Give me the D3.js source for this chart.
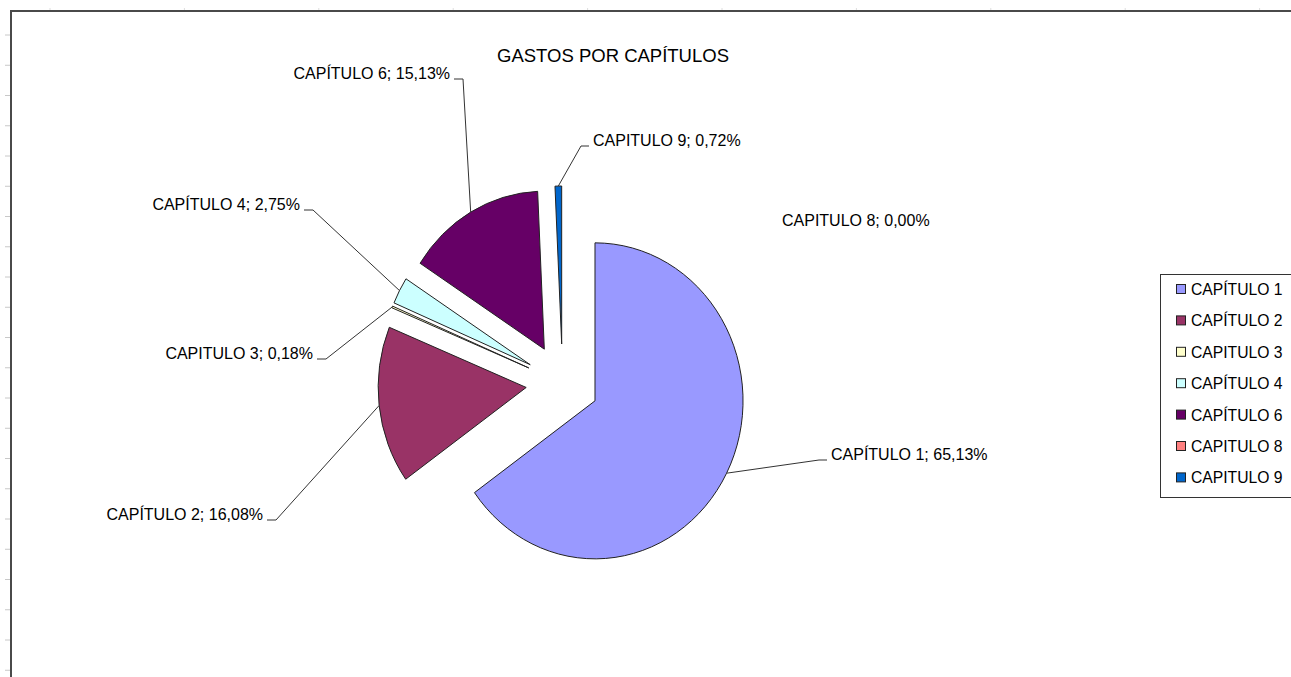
<!DOCTYPE html>
<html>
<head>
<meta charset="utf-8">
<script src="https://cdn.jsdelivr.net/npm/d3@7/dist/d3.min.js"></script>
<style>
  html, body { margin: 0; padding: 0; background: #fff; overflow: hidden; }
  svg { display: block; }
  text { font-family: "Liberation Sans", Arial, sans-serif; fill: #000; }
</style>
</head>
<body>
<svg id="chart" width="1291" height="677"></svg>
<script>
// ---- data ----
const title = "GASTOS POR CAPÍTULOS";
const categories = ["CAPÍTULO 1", "CAPÍTULO 2", "CAPITULO 3", "CAPÍTULO 4", "CAPÍTULO 6", "CAPITULO 8", "CAPITULO 9"];
const values = [65.13, 16.08, 0.18, 2.75, 15.13, 0.00, 0.72];
const colors = ["#9999FF", "#993366", "#FFFFCC", "#CCFFFF", "#660066", "#FF8080", "#0066CC"];

// ---- layout (label placement; x = text edge next to leader, y = baseline) ----
const labelLayout = [
  { x: 831, y: 460, side: "right" },   // CAPÍTULO 1
  { x: 263, y: 520, side: "left" },    // CAPÍTULO 2
  { x: 313, y: 359, side: "left" },    // CAPITULO 3
  { x: 300, y: 210, side: "left" },    // CAPÍTULO 4
  { x: 450, y: 79,  side: "left" },    // CAPÍTULO 6
  { x: 782, y: 226, side: "right", noLeader: true }, // CAPITULO 8
  { x: 593, y: 146, side: "right" }    // CAPITULO 9
];

const W = 1291, H = 677;
const svg = d3.select("#chart");

// sheet grid remnants
svg.append("g").selectAll("line").data(d3.range(35, H, 30.25)).join("line")
  .attr("x1", 5).attr("x2", 10).attr("y1", d => d).attr("y2", d => d)
  .attr("stroke", "#c8c8c8").attr("stroke-width", 1);
svg.append("g").selectAll("line").data(d3.range(50, W, 134.4)).join("line")
  .attr("x1", d => d).attr("x2", d => d).attr("y1", 8).attr("y2", 10)
  .attr("stroke", "#dddddd").attr("stroke-width", 1);

// chart area border
svg.append("path")
  .attr("d", `M11,${H + 5} L11,11 L${W + 5},11`)
  .attr("fill", "none").attr("stroke", "#4a4a4a").attr("stroke-width", 2);

// title
svg.append("text").attr("x", 613).attr("y", 62).attr("text-anchor", "middle")
  .style("font-size", "18.5px").text(title);

// pie
const cx = 562.5, cy = 383, R = 158, sx = 0.937, explode = 39;
const pie = d3.pie().sort(null).value(d => d).startAngle(0).endAngle(2 * Math.PI);
const arcs = pie(values);
const arc = d3.arc().innerRadius(0).outerRadius(R);

const g = svg.append("g").attr("transform", `translate(${cx},${cy}) scale(${sx},1)`);
g.selectAll("path").data(arcs.map((a, i) => ({ a, i })).filter(d => d.a.value > 0)).join("path")
  .attr("d", d => arc(d.a))
  .attr("transform", d => {
    const m = (d.a.startAngle + d.a.endAngle) / 2;
    return `translate(${explode * Math.sin(m)},${-explode * Math.cos(m)})`;
  })
  .attr("fill", d => colors[d.i])
  .attr("stroke", "#222")
  .attr("stroke-width", 1)
  .attr("vector-effect", "non-scaling-stroke")
  .attr("stroke-linejoin", "miter");

// labels + leaders
const lbl = svg.append("g");
arcs.forEach((a, i) => {
  const L = labelLayout[i];
  const m = (a.startAngle + a.endAngle) / 2;
  const px = cx + sx * (explode + R) * Math.sin(m);
  const py = cy - (explode + R) * Math.cos(m);
  if (!L.noLeader) {
    let e1, e2;
    if (L.side === "left") { e2 = L.x + 4; e1 = L.x + 13; }
    else { e2 = L.x - 4; e1 = L.x - 12; }
    const ly = L.y;
    lbl.append("path")
      .attr("d", `M${px},${py} L${e1},${ly} L${e2},${ly}`)
      .attr("fill", "none").attr("stroke", "#333").attr("stroke-width", 1);
  }
  lbl.append("text")
    .attr("x", L.x).attr("y", L.y)
    .attr("text-anchor", L.side === "left" ? "end" : "start")
    .style("font-size", "16px")
    .text(`${categories[i]}; ${values[i].toFixed(2).replace(".", ",")}%`);
});

// legend
const leg = svg.append("g");
leg.append("rect").attr("x", 1160.5).attr("y", 274.5).attr("width", 160).attr("height", 223)
  .attr("fill", "#fff").attr("stroke", "#333").attr("stroke-width", 1);
const ly0 = 289.5, lstep = 31.4;
categories.forEach((c, i) => {
  const y = ly0 + i * lstep;
  leg.append("rect").attr("x", 1176.5).attr("y", y - 5).attr("width", 9).attr("height", 9)
    .attr("fill", colors[i]).attr("stroke", "#222").attr("stroke-width", 1);
  leg.append("text").attr("x", 1191).attr("y", y + 5.5)
    .style("font-size", "15.7px").text(c);
});
</script>
</body>
</html>
